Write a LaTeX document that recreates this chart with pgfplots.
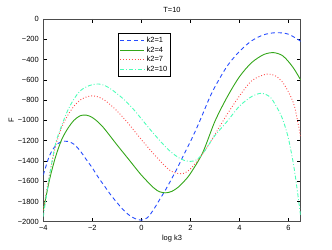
\documentclass[border=0pt]{standalone}
\usepackage{fontspec}
\setmainfont{Liberation Sans}
\usepackage{pgfplots}
\pgfplotsset{compat=1.18}
\definecolor{cblue}{rgb}{0.15,0.3,1}
\definecolor{cgreen}{rgb}{0.2,0.65,0.1}
\definecolor{cred}{rgb}{1,0.3,0.3}
\definecolor{ccyan}{rgb}{0.3,1,0.72}
\begin{document}
\begin{tikzpicture}
\path[use as bounding box] (-43.3bp,-28.3bp) rectangle (288.7bp,221.7bp);
\begin{axis}[
  scale only axis,
  width=257.4bp, height=202.7bp,
  xmin=-4, xmax=6.5, ymin=-2000, ymax=0,
  xtick={-4,-2,0,2,4,6},
  xticklabels={−4,−2,0,2,4,6},
  ytick={-2000,-1800,-1600,-1400,-1200,-1000,-800,-600,-400,-200,0},
  yticklabels={−2000,−1800,−1600,−1400,−1200,−1000,−800,−600,−400,−200,0},
  tick align=inside,
  major tick length=3.5bp,
  tick style={black, line width=0.5pt},
  axis line style={line width=0.6pt, black!70},
  ticklabel style={font=\fontsize{7.5}{8}\selectfont},
  yticklabel style={xshift=-1bp},
  xticklabel style={yshift=-0.5bp},
  title={T=10},
  title style={font=\fontsize{7.5}{8}\selectfont, yshift=-3bp},
  xlabel={log k3},
  xlabel style={font=\fontsize{7.5}{8}\selectfont, yshift=3bp},
  ylabel={F},
  ylabel style={font=\fontsize{7.5}{8}\selectfont, yshift=-3bp},
  legend style={at={(rel axis cs:0.29,0.93)}, anchor=north west,
    font=\fontsize{7.5}{8}\selectfont, draw=black, line width=0.6pt,
    inner xsep=1.5bp, inner ysep=1.5bp, row sep=-1.2bp,
    cells={anchor=west}},
  legend image code/.code={\draw[#1] (0cm,0cm) -- (0.85cm,0cm);},
  every axis plot/.append style={line width=0.9pt},
]
\addplot[cblue, dash pattern=on 4pt off 3pt, smooth] coordinates {
(-4,-1540) (-3.75,-1350) (-3.5,-1250) (-3.25,-1210) (-3,-1208) (-2.75,-1235)
(-2.5,-1300) (-2.25,-1385) (-2,-1470) (-1.75,-1565) (-1.5,-1650) (-1.25,-1735)
(-1,-1810) (-0.75,-1880) (-0.5,-1935) (-0.25,-1970) (0,-1985) (0.25,-1960)
(0.5,-1880) (0.75,-1780) (1,-1680) (1.25,-1570) (1.5,-1455) (1.75,-1330)
(2,-1210) (2.25,-1080) (2.5,-940) (2.75,-795) (3,-670) (3.5,-465) (4,-320)
(4.5,-215) (5,-155) (5.5,-135) (6,-150) (6.5,-220)};
\addlegendentry{k2=1}
\addplot[cgreen, smooth] coordinates {
(-4,-1890) (-3.75,-1590) (-3.5,-1360) (-3.25,-1190) (-3,-1080) (-2.75,-1000)
(-2.5,-955) (-2.25,-948) (-2,-972) (-1.75,-1020) (-1.5,-1085) (-1,-1240)
(-0.5,-1390) (0,-1540) (0.5,-1665) (0.75,-1705) (1,-1715) (1.25,-1700)
(1.5,-1660) (1.75,-1600) (2,-1525) (2.5,-1320) (3,-1010) (3.5,-770) (4,-570)
(4.5,-430) (5,-350) (5.4,-332) (5.75,-360) (6,-420) (6.25,-500) (6.5,-602)};
\addlegendentry{k2=4}
\addplot[cred, dash pattern=on 0.9pt off 2pt, smooth] coordinates {
(-4,-1885) (-3.75,-1540) (-3.5,-1255) (-3.25,-1070) (-3,-950) (-2.75,-860)
(-2.5,-800) (-2.25,-770) (-2,-758) (-1.75,-770) (-1.5,-800) (-1.25,-850)
(-1,-905) (-0.5,-1040) (0,-1190) (0.5,-1330) (1,-1460) (1.25,-1505)
(1.5,-1525) (1.75,-1522) (2,-1480) (2.25,-1410) (2.5,-1330) (2.75,-1240)
(3,-1140) (3.5,-940) (4,-760) (4.5,-610) (5,-550) (5.25,-545) (5.5,-565)
(5.75,-620) (6,-720) (6.25,-865) (6.5,-1170)};
\addlegendentry{k2=7}
\addplot[ccyan, dash pattern=on 4pt off 2pt on 0.9pt off 2pt, smooth] coordinates {
(-4,-1950) (-3.75,-1550) (-3.5,-1230) (-3.25,-1050) (-3,-900) (-2.75,-790)
(-2.5,-710) (-2.25,-670) (-2,-648) (-1.75,-641) (-1.5,-655) (-1.25,-690)
(-1,-735) (-0.75,-785) (-0.5,-845) (-0.25,-910) (0,-985) (0.5,-1130)
(1,-1265) (1.25,-1320) (1.5,-1365) (1.75,-1395) (2,-1405) (2.25,-1390)
(2.5,-1330) (2.75,-1240) (3,-1150) (3.5,-1010) (4,-860) (4.5,-765)
(4.9,-733) (5.25,-770) (5.5,-860) (5.75,-980) (6,-1180) (6.25,-1500) (6.5,-1950)};
\addlegendentry{k2=10}
\end{axis}
\end{tikzpicture}
\end{document}
